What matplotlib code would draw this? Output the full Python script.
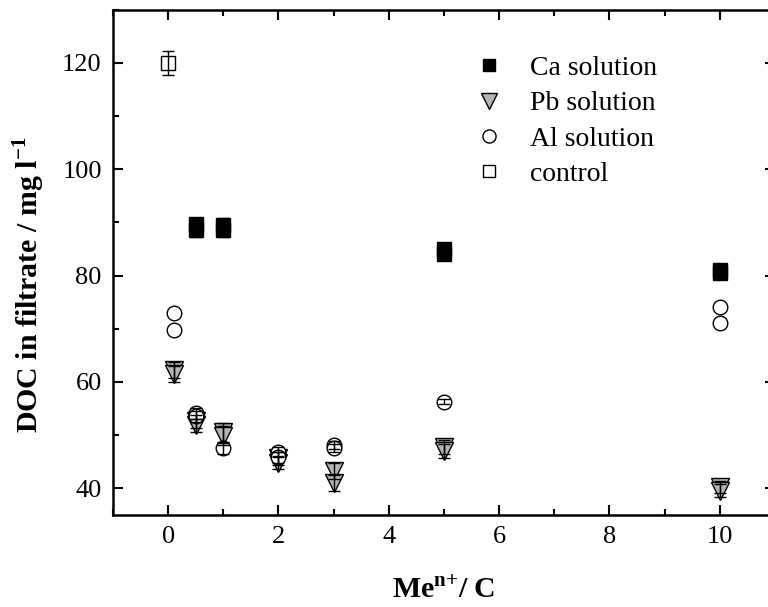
import matplotlib

matplotlib.use("Agg")
import matplotlib.pyplot as plt
from matplotlib.ticker import MultipleLocator

plt.rcParams["font.family"] = ["Liberation Serif", "DejaVu Serif"]
plt.rcParams["mathtext.fontset"] = "custom"
plt.rcParams["mathtext.rm"] = "Liberation Serif"
plt.rcParams["mathtext.bf"] = "Liberation Serif:bold"

# DOC in filtrate (mg/l) vs Me(n+)/C ratio, replicate measurements
ca_x = [0.5, 0.5, 1, 1, 5, 5, 10, 10]
ca_y = [88.5, 89.6, 88.6, 89.5, 84.1, 84.9, 80.5, 81.0]
ca_err = [1.3, 1.3, 1.3, 1.3, 1.2, 1.2, 1.0, 1.0]

pb_x = [0.1, 0.1, 0.5, 0.5, 1, 1, 2, 2, 3, 3, 5, 5, 10, 10]
pb_y = [62.3, 61.5, 52.6, 51.8, 50.5, 49.9, 45.6, 44.8, 43.2, 41.0, 47.8, 47.0, 40.2, 39.5]
pb_err = [1.5, 1.5, 1.2, 1.2, 1.8, 1.8, 1.2, 1.2, 1.5, 1.5, 1.3, 1.3, 1.2, 1.2]

al_x = [0.1, 0.1, 0.5, 0.5, 1, 2, 2, 3, 3, 5, 10, 10]
al_y = [73.0, 69.8, 54.1, 53.5, 47.5, 46.8, 45.8, 48.1, 47.6, 56.3, 74.1, 71.0]
al_err = [0.0, 0.0, 1.0, 1.0, 1.0, 1.0, 1.0, 0.8, 0.8, 0.5, 0.0, 0.0]

ctrl_x = [0]
ctrl_y = [120]
ctrl_err = [2.3]

fig = plt.figure(figsize=(7.68, 6.07), dpi=100)
ax = fig.add_axes([0.147, 0.152, 0.862, 0.832])

series = [
    (ca_x, ca_y, ca_err, "s", "black", 10, "Ca solution"),
    (pb_x, pb_y, pb_err, "v", "#b4b4b4", 12.5, "Pb solution"),
    (al_x, al_y, al_err, "o", "white", 10.5, "Al solution"),
    (ctrl_x, ctrl_y, ctrl_err, "s", "white", 10, "control"),
]
handles = []
for x, y, e, m, fc, ms, lab in series:
    h, = ax.plot(x, y, ls="none", marker=m, ms=ms, mfc=fc, mec="black",
                 mew=1.0, label=lab, zorder=3)
    # error bars on top of the markers, skipped where no error was given
    pts = [(xi, yi, ei) for xi, yi, ei in zip(x, y, e) if ei > 0]
    ex, ey, ee = zip(*pts)
    ax.errorbar(ex, ey, yerr=ee, fmt="none", ecolor="black", elinewidth=1.0,
                capsize=4, capthick=1.0, zorder=4)
    handles.append(h)

ax.set_xlim(-1, 11)
ax.set_ylim(35, 130)
ax.xaxis.set_major_locator(MultipleLocator(2))
ax.xaxis.set_minor_locator(MultipleLocator(1))
ax.yaxis.set_minor_locator(MultipleLocator(10))
ax.set_yticks([40, 60, 80, 100, 120])
ax.tick_params(which="both", direction="in", top=True, right=True,
               width=1.5, labelsize=19)
ax.tick_params(which="major", length=7, pad=8)
ax.tick_params(which="minor", length=4)
for s in ax.spines.values():
    s.set_linewidth(1.8)

ax.set_xlabel(r"Me$^{\mathbf{n{+}}}$/ C", fontsize=21.5, fontweight="bold", labelpad=20)
ax.set_ylabel(r"DOC in filtrate / mg l$^{\mathbf{-1}}$", fontsize=21.5,
              fontweight="bold")
ax.yaxis.set_label_coords(-0.1, 0.455)

ax.legend(handles=handles, loc="upper left", bbox_to_anchor=(0.601, 0.931),
          bbox_transform=fig.transFigure, frameon=False, fontsize=20,
          borderpad=0, handlelength=1.0, handletextpad=0.97,
          labelspacing=0.35, markerscale=0.9)

fig.savefig("out.png", dpi=100)
